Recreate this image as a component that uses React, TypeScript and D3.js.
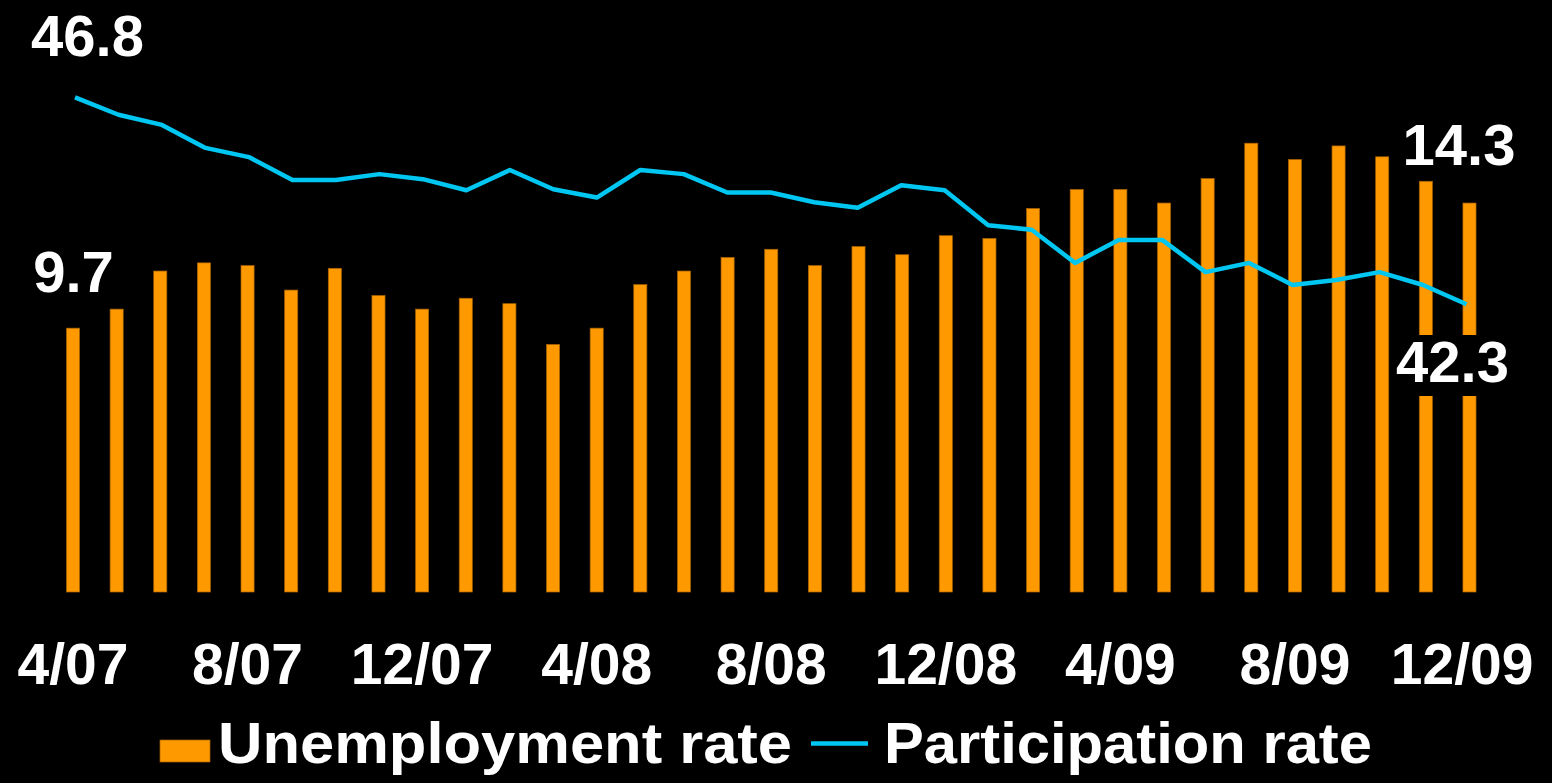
import React, { useEffect } from "react";
import * as d3 from "d3";

const months = [
  "4/07", "5/07", "6/07", "7/07", "8/07", "9/07", "10/07", "11/07", "12/07",
  "1/08", "2/08", "3/08", "4/08", "5/08", "6/08", "7/08", "8/08", "9/08", "10/08", "11/08", "12/08",
  "1/09", "2/09", "3/09", "4/09", "5/09", "6/09", "7/09", "8/09", "9/09", "10/09", "11/09", "12/09",
];

const unemployment = [
  9.7, 10.4, 11.8, 12.1, 12.0, 11.1, 11.9, 10.9, 10.4, 10.8, 10.6, 9.1, 9.7, 11.3, 11.8, 12.3, 12.6,
  12.0, 12.7, 12.4, 13.1, 13.0, 14.1, 14.8, 14.8, 14.3, 15.2, 16.5, 15.9, 16.4, 16.0, 15.1, 14.3,
];

const participation = [
  46.8, 46.42, 46.2, 45.7, 45.5, 45.0, 45.0, 45.13, 45.02, 44.78, 45.22, 44.8, 44.62, 45.22, 45.13,
  44.73, 44.73, 44.52, 44.4, 44.89, 44.78, 44.02, 43.92, 43.2, 43.7, 43.7, 43.0, 43.2, 42.72, 42.83,
  43.0, 42.72, 42.3,
];

const tickLabels = ["4/07", "8/07", "12/07", "4/08", "8/08", "12/08", "4/09", "8/09", "12/09"];

const legendItems = ["Unemployment rate", "Participation rate"];

const W = 1552;
const H = 783;
const FONT = "'Liberation Sans', Arial, Helvetica, sans-serif";
const ORANGE = "#FF9900";
const CYAN = "#00C6F2";

export default function App() {
  useEffect(() => {
    document.body.style.margin = "0";
    document.body.style.background = "#000";
  }, []);

  const step = 43.64;
  const x = d3
    .scaleBand<string>()
    .domain(months)
    .range([73 - step / 2, 73 - step / 2 + step * months.length])
    .paddingInner(0.7)
    .paddingOuter(0.35);

  const xLine = d3.scalePoint<string>().domain(months).range([75, 1466.5]);

  const yBar = d3.scaleLinear().domain([0, 20]).range([592, 48]);
  const yLine = d3.scaleLinear().domain([40, 48]).range([410.1, 42.1]);

  const line = d3
    .line<number>()
    .x((_, i) => xLine(months[i]) as number)
    .y((d) => yLine(d));

  const bw = x.bandwidth();
  const cx = (m: string) => (x(m) as number) + bw / 2;

  const last = months.length - 1;

  return (
    <svg
      width={W}
      height={H}
      style={{ position: "absolute", left: 0, top: 0, background: "#000", display: "block" }}
      fontFamily={FONT}
      fontWeight="bold"
    >
      <rect x={0} y={0} width={W} height={H} fill="#000" />
      <g>
        {unemployment.map((v, i) => (
          <rect
            key={months[i]}
            x={x(months[i])}
            y={yBar(v)}
            width={bw}
            height={yBar(0) - yBar(v)}
            fill={ORANGE}
            stroke="#a86200"
            strokeWidth={0.7}
          />
        ))}
      </g>
      <path
        d={line(participation) || ""}
        fill="none"
        stroke={CYAN}
        strokeWidth={4.5}
        strokeLinejoin="round"
      />
      {/* value labels */}
      <text x={87.5} y={56} fontSize={58} fill="#fff" textAnchor="middle">
        {participation[0].toFixed(1)}
      </text>
      <text x={73.5} y={291.7} fontSize={58} fill="#fff" textAnchor="middle">
        {unemployment[0].toFixed(1)}
      </text>
      <text x={1459} y={165} fontSize={58} fill="#fff" textAnchor="middle">
        {unemployment[last].toFixed(1)}
      </text>
      <rect x={1395} y={335} width={117} height={61} fill="#000" />
      <text x={1452.5} y={381.7} fontSize={58} fill="#fff" textAnchor="middle">
        {participation[last].toFixed(1)}
      </text>
      {/* x axis labels */}
      <g>
        {tickLabels.map((t, i) => (
          <text
            key={t}
            x={i === tickLabels.length - 1 ? 1533.5 : cx(t)}
            y={684}
            fontSize={57}
            fill="#fff"
            textAnchor={i === tickLabels.length - 1 ? "end" : "middle"}
          >
            {t}
          </text>
        ))}
      </g>
      {/* legend */}
      <rect x={160} y={740} width={50} height={22} fill={ORANGE} stroke="#a86200" strokeWidth={0.7} />
      <text
        x={218}
        y={763}
        fontSize={57}
        fill="#fff"
        textLength={574}
        lengthAdjust="spacingAndGlyphs"
      >
        {legendItems[0]}
      </text>
      <line x1={811} x2={868} y1={743.5} y2={743.5} stroke={CYAN} strokeWidth={4.5} />
      <text
        x={884}
        y={763}
        fontSize={57}
        fill="#fff"
        textLength={488}
        lengthAdjust="spacingAndGlyphs"
      >
        {legendItems[1]}
      </text>
    </svg>
  );
}
